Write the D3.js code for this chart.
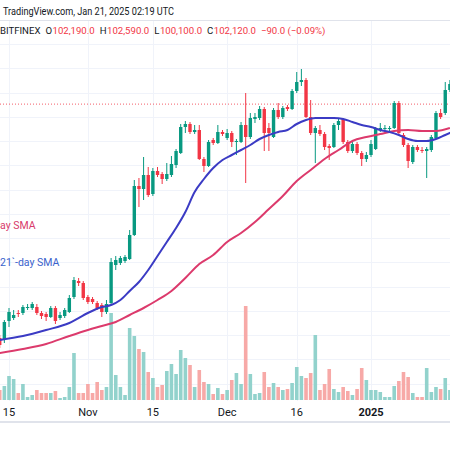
<!DOCTYPE html>
<html><head><meta charset="utf-8">
<script src="https://cdn.jsdelivr.net/npm/d3@7"></script>
<style>body{margin:0;background:#fff;overflow:hidden}svg{display:block;font-family:Roboto,"Noto Sans",sans-serif}</style>
</head><body><svg id="c" width="450" height="450"></svg>
<script>
// ---------- data (daily candles from 2024-10-13, BITFINEX BTC/USD) ----------
const startDate = "2024-10-13";
const opens = [63530,63200,66335,66830,67655,67655,68480,68480,68645,67655,
67490,66995,68480,66830,67160,67820,70295,72935,72605,70295,
69965,69305,68975,67820,69305,75575,75905,76235,76565,80525,
88610,88115,90425,87290,91085,90590,89765,90425,92075,94055,
98345,98840,97520,97850,93065,91910,96200,95705,97520,96530,
97355,95870,95870,98675,96695,99665,99830,101315,98180,96695,
101150,99995,101645,101315,104285,105770,106100,99995,97355,97850,
97190,95210,95045,98675,99665,95870,94385,95540,94055,93065,
93725,94715,97850,98015,98015,98180,102305,97025,95375,92570,
95045,94550,94385,94550,96530,100655,100655,104450];
const highs = [64025,66500,68480,68150,68150,68975,69140,69470,69140,67985,
67820,68810,68810,67820,68480,70625,73595,73430,72935,70625,
70295,69635,69305,69800,76730,77060,77060,77225,81350,89600,
89930,93395,91745,91580,91745,90920,92405,93560,94715,98840,
99335,99170,98675,98675,93395,96200,96530,98675,97850,98015,
97685,96365,99170,103955,100655,100655,101810,101645,99005,101480,
102305,101810,101975,104615,107420,107915,106430,102800,98510,98675,
97520,95540,99005,99665,99830,96200,95870,95870,94385,94220,
96200,98345,99005,98675,98510,102635,102635,97355,95705,95375,
95375,95045,95045,97025,100985,101315,105770,106100];
const lows = [61880,62705,65345,66500,66995,67325,68150,68150,67325,66665,
66335,66830,65840,66500,66830,67655,69965,72110,69800,69140,
69140,68150,66995,67490,68975,74750,75575,75905,76400,80360,
85145,86300,86795,86960,90095,88940,89435,90095,91580,93890,
97355,97190,97190,92900,90920,91745,95375,95540,96860,96200,
95045,93725,95705,89105,96365,99005,99500,94385,94385,96530,
99665,99665,100985,101150,103955,105110,99830,97025,92405,96860,
94550,92900,94880,97850,95540,94055,94055,93725,91910,92570,
93395,94550,97520,97850,97685,98015,97025,95045,91580,92240,
94220,94055,89930,94220,96365,99665,100325,104120];
const closes = [62375,66170,67820,67325,67490,68645,68645,69140,67655,67160,
66995,68480,66335,67325,68150,70130,73100,72605,70130,69470,
69470,68480,67820,69140,76070,76400,76730,76895,80525,88610,
88115,90425,87125,91085,90425,89765,90590,92240,94385,98345,
98840,97520,97850,93065,91910,95870,95705,97520,97190,97355,
95870,96035,98675,96695,99830,99995,101315,97355,97355,101150,
99995,101480,101315,104285,105770,106100,99995,97355,98180,97190,
95045,94880,98675,99335,95870,94385,95540,94055,93065,93725,
95540,98180,98180,98180,98180,102305,97355,95375,92735,95045,
94550,94385,94715,96695,100655,99995,104450,105440];
const volumes = [1000,1400,2400,2100,700,1600,300,500,1000,700,
700,700,900,200,300,1300,4700,700,700,1600,
700,1800,1000,1300,8700,2500,1300,500,7200,6400,
5100,4800,2800,2200,1300,1500,2900,3600,2600,5000,
4200,3500,1300,3000,1800,1600,600,1200,600,1000,
2000,2700,1600,9400,2600,600,700,2800,1300,1700,
1300,1000,1100,1700,3300,2400,2200,2700,6500,1000,
1600,3100,1100,800,1300,900,500,1100,3200,2000,
1000,1000,800,300,300,1400,1900,2800,2300,700,
300,300,3200,800,1300,1100,2200,1000];
// moving averages (day index, value)
const sma21Days = [0,5,10,15,19,22,24,26,28,30,32,34,36,38,40,42,44,46,48,50,52,54,56,58,60,62,64,66,68,70,72,74,76,78,80,82,84,86,88,90,92,94,96,98];
const sma21Values = [63200,63860,64850,66005,67655,68645,68975,69800,71285,72770,74750,77060,79370,81680,84320,87620,89765,91580,92900,93725,94550,95375,96365,97025,97520,97850,98840,99500,99830,99830,99830,99665,99170,98675,98345,97850,97520,97025,96365,96035,96035,96365,97025,97685];
const sma50Days = [0,5,10,15,19,22,25,28,31,34,37,40,43,46,49,52,55,58,61,64,67,70,73,76,79,82,85,88,91,94,97];
const sma50Values = [61055,61715,62540,63860,64850,65510,66170,67325,68480,69800,71285,73430,75740,77225,79370,80855,82670,84815,86960,89435,91250,93065,94550,96035,96695,97190,97685,97850,97685,97685,98180];
const tickDates = ["2024-10-15","2024-11-01","2024-11-15","2024-12-01","2024-12-16","2025-01-01"];
const tickLabels = ["15","Nov","15","Dec","16","2025"];
const gridPrices = [52000,56000,60000,64000,68000,72000,76000,80000,84000,88000,92000,96000,100000,104000,108000,112000,116000];
const lastPrice = 102120;
const headerTitle = "TradingView.com, Jan 21, 2025 02:19 UTC";
const legendParts = [["BITFINEX",0],["O",0],["102,190.0",1],["H",0],["102,590.0",1],["L",0],["100,100.0",1],["C",0],["102,120.0",1],["−90.0 (−0.09%)",1]];
const smaLabels = ["ay SMA","21`-day SMA"];

// ---------- drawing ----------
const W=450,H=450, paneTop=21, paneBottom=401;
const svg=d3.select("#c");
const start=new Date(startDate+"T00:00:00Z");
const data=opens.map((o,i)=>({date:d3.utcDay.offset(start,i),o,h:highs[i],l:lows[i],c:closes[i],v:volumes[i]}));
const x=d3.scaleUtc().domain([new Date("2024-10-15T00:00:00Z"),new Date("2025-01-01T00:00:00Z")]).range([9,371]);
const y=d3.scaleLinear().domain([49670,119300]).range([422,0]);
const yv=d3.scaleLinear().domain([0,10000]).range([400,300]);
const dayX=i=>x(d3.utcDay.offset(start,i));

const GREEN="#089981",RED="#f23645",GRID="#f0f3fa";
svg.append("rect").attr("width",W).attr("height",H).attr("fill","#fff");
svg.append("clipPath").attr("id","pane").append("rect").attr("x",0).attr("y",paneTop).attr("width",W).attr("height",paneBottom-paneTop);
const g=svg.append("g").attr("clip-path","url(#pane)");

// grid
g.selectAll(".hg").data(gridPrices).join("line").attr("x1",0).attr("x2",W)
 .attr("y1",d=>Math.round(y(d))+0.5).attr("y2",d=>Math.round(y(d))+0.5).attr("stroke",GRID).attr("stroke-width",1);
const tDates=tickDates.map(d=>new Date(d+"T00:00:00Z"));
g.selectAll(".vg").data(tDates).join("line").attr("y1",paneTop).attr("y2",paneBottom)
 .attr("x1",d=>Math.round(x(d))+0.5).attr("x2",d=>Math.round(x(d))+0.5).attr("stroke",GRID).attr("stroke-width",1);

// volume
const bw=3.6;
g.selectAll(".vol").data(data).join("rect")
 .attr("x",d=>x(d.date)-bw/2).attr("width",bw)
 .attr("y",d=>yv(d.v)).attr("height",d=>yv(0)-yv(d.v))
 .attr("fill",d=>d.c>=d.o?"#92d2cc":"#f7a9a7");

// last price dotted line
g.append("line").attr("x1",0).attr("x2",W).attr("y1",y(lastPrice)).attr("y2",y(lastPrice))
 .attr("stroke",RED).attr("stroke-width",1).attr("stroke-dasharray","1,2").attr("opacity",0.8);

// candles
const cw=3.4;
const cg=g.selectAll(".cd").data(data).join("g");
cg.append("line").attr("x1",d=>x(d.date)).attr("x2",d=>x(d.date))
 .attr("y1",d=>y(d.h)).attr("y2",d=>y(d.l)).attr("stroke",d=>d.c>=d.o?GREEN:RED).attr("stroke-width",1);
cg.append("rect").attr("x",d=>x(d.date)-cw/2).attr("width",cw)
 .attr("y",d=>y(Math.max(d.o,d.c))).attr("height",d=>Math.max(1,Math.abs(y(d.o)-y(d.c))))
 .attr("fill",d=>d.c>=d.o?GREEN:RED);

// SMAs
const line=d3.line().x(d=>dayX(d[0])).y(d=>y(d[1])).curve(d3.curveMonotoneX);
g.append("path").attr("d",line(sma50Days.map((d,i)=>[d,sma50Values[i]]))).attr("fill","none").attr("stroke","#dc3a6c").attr("stroke-width",2);
g.append("path").attr("d",line(sma21Days.map((d,i)=>[d,sma21Values[i]]))).attr("fill","none").attr("stroke","#3b3bc4").attr("stroke-width",2);

// pane borders
svg.append("line").attr("x1",0).attr("x2",W).attr("y1",paneTop-0.5).attr("y2",paneTop-0.5).attr("stroke","#e0e3eb");
svg.append("line").attr("x1",0).attr("x2",W).attr("y1",422).attr("y2",422).attr("stroke","#e0e3eb").attr("stroke-width",2);

// time axis labels
svg.selectAll(".tl").data(tDates).join("text").attr("x",d=>x(d)).attr("y",416)
 .attr("text-anchor","middle").attr("font-size",11).attr("fill","#131722")
 .attr("font-weight",(d,i)=>tickLabels[i]==="2025"?"bold":"normal").text((d,i)=>tickLabels[i]);

// header
svg.append("text").attr("x",3).attr("y",15).attr("font-size",11).attr("fill","#131722")
 .attr("textLength",171).attr("lengthAdjust","spacingAndGlyphs").text(headerTitle);

// legend line: separate texts laid out left to right
const lgG=svg.append("g");
const lgTexts=legendParts.map(p=>lgG.append("text").attr("y",34).attr("font-size",9.6)
  .attr("fill",p[1]?RED:"#131722").text(p[0]));
let cx=0;
lgTexts.forEach((t,i)=>{
  if(i>0) cx += (legendParts[i][1]===0 || i===legendParts.length-1) ? 5 : 0.5;
  t.attr("x",cx);
  cx += t.node().getComputedTextLength();
});

// SMA labels
svg.append("text").attr("x",0).attr("y",229).attr("font-size",10.5).attr("fill","#d83a6b").text(smaLabels[0]);
svg.append("text").attr("x",0).attr("y",266).attr("font-size",10.5).attr("fill","#3a62cc").text(smaLabels[1]);
</script></body></html>
